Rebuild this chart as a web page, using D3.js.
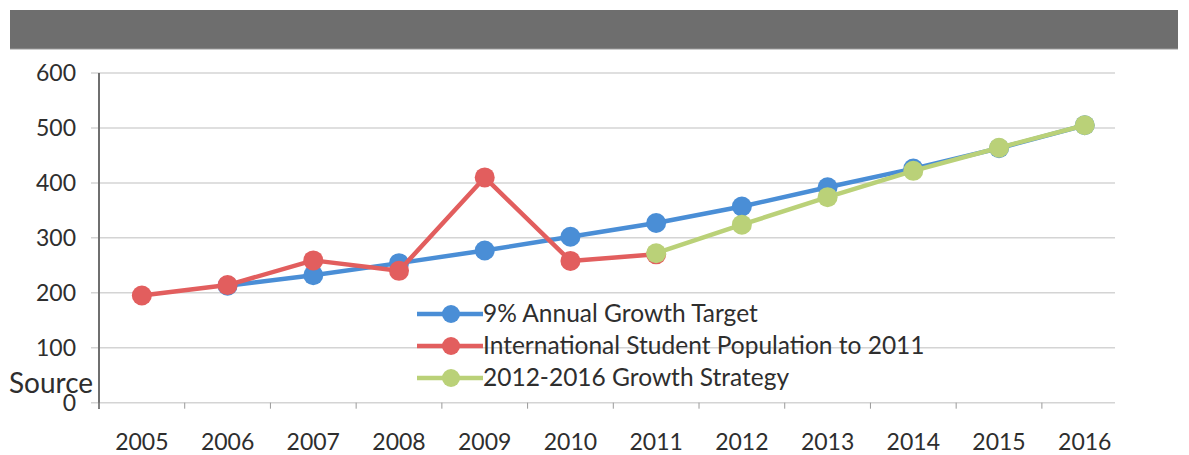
<!DOCTYPE html>
<html>
<head>
<meta charset="utf-8">
<script src="https://cdn.jsdelivr.net/npm/d3@7"></script>
<style>
  body { margin: 0; background: #fff; }
  svg text { font-family: Lato, "Open Sans", sans-serif; fill: #2e2e2e; }
</style>
</head>
<body>
<div id="chart"></div>
<script>
// years on the category axis
var years = ['2005','2006','2007','2008','2009','2010','2011','2012','2013','2014','2015','2016']
var yTicks = [0, 100, 200, 300, 400, 500, 600]

// series
var targetYears = ['2006','2007','2008','2009','2010','2011','2012','2013','2014','2015','2016']
var targetVals  = [213, 232, 254, 277, 302, 327, 357, 392, 426, 463, 505]

var popYears = ['2005','2006','2007','2008','2009','2010','2011']
var popVals  = [195, 214, 259, 240, 410, 258, 270]

var stratYears = ['2011','2012','2013','2014','2015','2016']
var stratVals  = [272, 324, 374, 422, 464, 505]

var seriesNames = ['9% Annual Growth Target', 'International Student Population to 2011', '2012-2016 Growth Strategy']
var seriesCols  = ['#4a8ed6', '#e25e5e', '#bad178']

var W = 1189, H = 455

var svg = d3.select('#chart').append('svg')
    .attr('width', W)
    .attr('height', H)

// grey banner on top
svg.append('rect')
    .attr('x', 10).attr('y', 10)
    .attr('width', 1168).attr('height', 39)
    .attr('fill', '#6e6e6e')
svg.append('line')
    .attr('x1', 10).attr('x2', 1178)
    .attr('y1', 49).attr('y2', 49)
    .attr('stroke', '#9a9a9a').attr('stroke-width', 1)

var x = d3.scaleBand().domain(years).range([99, 1127.6]).padding(0)
var y = d3.scaleLinear().domain([0, 600]).range([402.7, 73])

// gridlines
svg.append('g').selectAll('line')
  .data(yTicks)
  .join('line')
    .attr('x1', 91).attr('x2', 1115)
    .attr('y1', d => y(d)).attr('y2', d => y(d))
    .attr('stroke', '#d4d4d4').attr('stroke-width', 1.5)

// y axis line
svg.append('line')
    .attr('x1', 99).attr('x2', 99)
    .attr('y1', y(600)).attr('y2', 409)
    .attr('stroke', '#6f6f6f').attr('stroke-width', 2)

// x axis ticks (between categories)
svg.append('g').selectAll('line')
  .data(years)
  .join('line')
    .attr('x1', d => x(d)).attr('x2', d => x(d))
    .attr('y1', y(0)).attr('y2', y(0) + 6)
    .attr('stroke', '#9a9a9a').attr('stroke-width', 1)

// y tick labels
svg.append('g').selectAll('text')
  .data(yTicks)
  .join('text')
    .attr('x', 76)
    .attr('y', d => y(d) + 8)
    .attr('text-anchor', 'end')
    .attr('font-size', 23)
    .text(d => d)

// x tick labels
svg.append('g').selectAll('text')
  .data(years)
  .join('text')
    .attr('x', d => x(d) + x.bandwidth() / 2)
    .attr('y', 450)
    .attr('text-anchor', 'middle')
    .attr('font-size', 23)
    .text(d => d)

// stray "Source" text over the axis
svg.append('text')
    .attr('x', 9).attr('y', 393)
    .attr('font-size', 28)
    .text('Source')

// draw one series: line + round markers
var line = d3.line().x(d => x(d[0]) + x.bandwidth() / 2).y(d => y(d[1]))

drawSeries = function(yrs, vals, col) {
  var pts = d3.zip(yrs, vals)
  svg.append('path')
    .datum(pts)
    .attr('d', line)
    .attr('fill', 'none')
    .attr('stroke', col)
    .attr('stroke-width', 4.5)
    .attr('stroke-linejoin', 'round')
  svg.append('g').selectAll('circle')
    .data(pts)
    .join('circle')
      .attr('cx', d => x(d[0]) + x.bandwidth() / 2)
      .attr('cy', d => y(d[1]))
      .attr('r', 10)
      .attr('fill', col)
}

drawSeries(targetYears, targetVals, seriesCols[0])
drawSeries(popYears, popVals, seriesCols[1])
drawSeries(stratYears, stratVals, seriesCols[2])

// legend (no background, sits over the gridlines)
var lg = svg.append('g')
var ly = 314
for (i in seriesNames) {
  lg.append('line')
    .attr('x1', 417).attr('x2', 483)
    .attr('y1', ly).attr('y2', ly)
    .attr('stroke', seriesCols[i]).attr('stroke-width', 4.5)
  lg.append('circle')
    .attr('cx', 451).attr('cy', ly)
    .attr('r', 9)
    .attr('fill', seriesCols[i])
  lg.append('text')
    .attr('x', 483).attr('y', ly + 8)
    .attr('font-size', 24.5)
    .text(seriesNames[i])
  ly = ly + 32
}
</script>
</body>
</html>
